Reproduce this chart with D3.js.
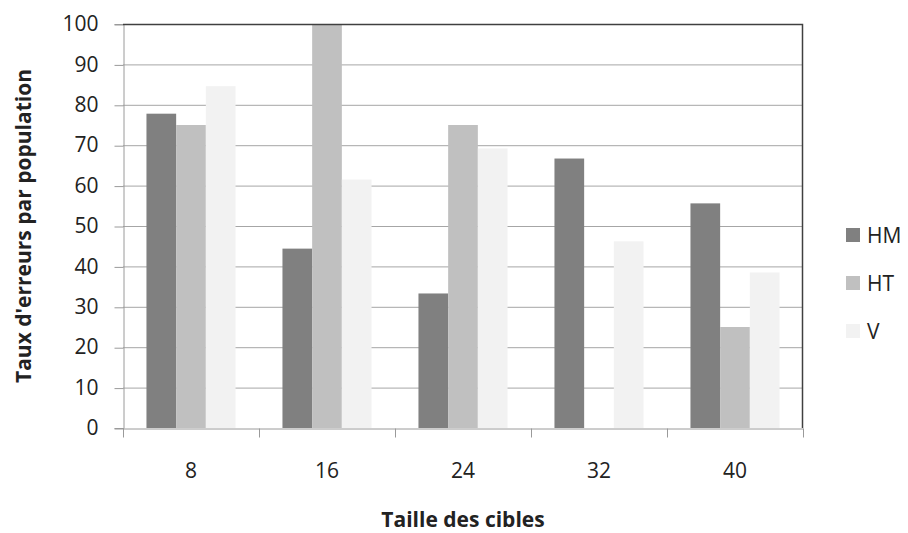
<!DOCTYPE html>
<html>
<head>
<meta charset="utf-8">
<script src="https://cdn.jsdelivr.net/npm/d3@7"></script>
<style>
  body { margin: 0; background: #fff; }
  svg text { font-family: "Open Sans", "Liberation Sans", sans-serif; fill: #222; }
</style>
</head>
<body>
<div id="chart"></div>
<script>
const categories = ["8", "16", "24", "32", "40"];
const seriesNames = ["HM", "HT", "V"];
const hmValues = [77.8, 44.4, 33.3, 66.7, 55.6];
const htValues = [75, 100, 75, 0, 25];
const vValues = [84.6, 61.5, 69.2, 46.2, 38.5];
const yTicks = [0, 10, 20, 30, 40, 50, 60, 70, 80, 90, 100];
const seriesColors = ["#808080", "#c0c0c0", "#f2f2f2"];

const allValues = [hmValues, htValues, vValues];
const rows = categories.map((c, i) => ({
  cat: c,
  vals: seriesNames.map((s, k) => ({ key: s, value: allValues[k][i] }))
}));

const W = 908, H = 533;
const margin = { top: 24, right: 105, bottom: 105, left: 123 };
const cw = W - margin.left - margin.right,
      ch = H - margin.top - margin.bottom;

const svg = d3.select("#chart").append("svg")
    .attr("width", W).attr("height", H);
const g = svg.append("g").attr("transform", `translate(${margin.left},${margin.top})`);

const x = d3.scaleBand().domain(categories).range([0, cw]);
const inner = d3.scaleBand().domain(seriesNames)
    .range([0, x.bandwidth()]).paddingOuter(0.79).paddingInner(0);
const y = d3.scaleLinear().domain([0, 100]).range([ch, 0]);
const color = d3.scaleOrdinal().domain(seriesNames).range(seriesColors);

// gridlines
g.append("g")
  .selectAll("line")
  .data(yTicks.filter(t => t > 0 && t < 100))
  .enter().append("line")
  .attr("x1", 0).attr("x2", cw)
  .attr("y1", d => y(d) + 0.5).attr("y2", d => y(d) + 0.5)
  .attr("stroke", "#a6a6a6").attr("stroke-width", 1);

// bars
g.selectAll(".grp")
  .data(rows)
  .enter().append("g")
  .attr("transform", d => `translate(${x(d.cat)},0)`)
  .selectAll("rect")
  .data(d => d.vals)
  .enter().append("rect")
  .attr("x", d => inner(d.key))
  .attr("width", inner.bandwidth())
  .attr("y", d => y(d.value))
  .attr("height", d => ch - y(d.value))
  .attr("fill", d => color(d.key));

// y axis
const yAxis = g.append("g")
  .attr("transform", "translate(0.5,0)")
  .call(d3.axisLeft(y).tickValues(yTicks).tickSize(9).tickPadding(16));
yAxis.select(".domain").attr("stroke", "#9a9a9a");
yAxis.selectAll(".tick line").attr("stroke", "#9a9a9a").attr("transform", "translate(0,0.5)");
yAxis.selectAll(".tick text").style("font-size", "21px").attr("fill", "#222");

// x axis
const xAxis = g.append("g")
  .attr("transform", `translate(0,${ch + 0.5})`)
  .call(d3.axisBottom(x).tickSize(0).tickPadding(35));
xAxis.select(".domain").attr("stroke", "#9a9a9a");
xAxis.selectAll(".tick text").style("font-size", "21px").attr("fill", "#222");
xAxis.selectAll(".sep")
  .data(d3.range(categories.length + 1))
  .enter().append("line")
  .attr("x1", i => i * x.step() + 0.5).attr("x2", i => i * x.step() + 0.5)
  .attr("y1", 0).attr("y2", 9)
  .attr("stroke", "#9a9a9a");

// plot frame (top and right)
g.append("path")
  .attr("d", `M0,0.5H${cw - 0.5}V${ch}`)
  .attr("fill", "none").attr("stroke", "#404040").attr("stroke-width", 1.5);

// axis titles
svg.append("text")
  .attr("transform", `translate(31,${margin.top + ch / 2}) rotate(-90)`)
  .attr("text-anchor", "middle")
  .style("font-size", "21px").style("font-weight", "bold")
  .text("Taux d'erreurs par population");

svg.append("text")
  .attr("x", margin.left + cw / 2).attr("y", 527)
  .attr("text-anchor", "middle")
  .style("font-size", "21px").style("font-weight", "bold")
  .text("Taille des cibles");

// legend
const legend = svg.append("g").attr("transform", "translate(846,235)");
const item = legend.selectAll("g")
  .data(seriesNames)
  .enter().append("g")
  .attr("transform", (d, i) => `translate(0,${i * 48})`);
item.append("rect")
  .attr("x", 0).attr("y", -7).attr("width", 14).attr("height", 14)
  .attr("fill", d => color(d));
item.append("text")
  .attr("x", 21).attr("y", 0).attr("dy", "0.36em")
  .style("font-size", "21px")
  .text(d => d);
</script>
</body>
</html>
